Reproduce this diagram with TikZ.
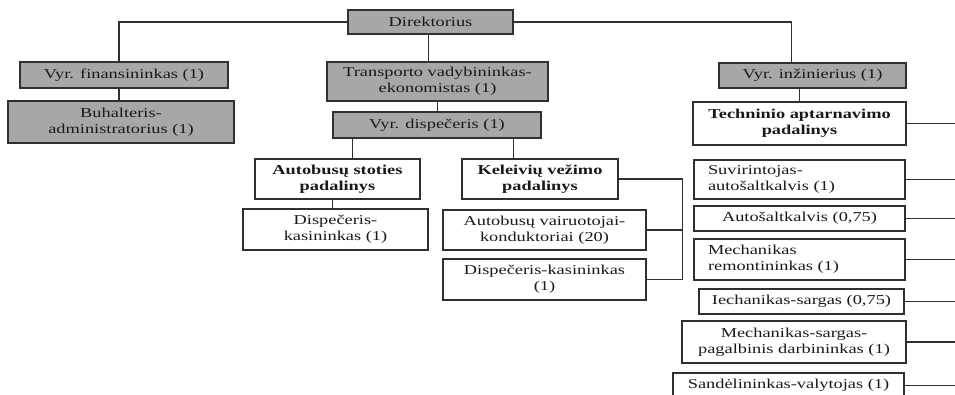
\documentclass[tikz,border=0pt]{standalone}
\usepackage{fontspec}
\setmainfont{Liberation Serif}[FakeStretch=1.35]
\usetikzlibrary{positioning}
\definecolor{boxgray}{RGB}{169,166,166}
\definecolor{inkgray}{RGB}{48,48,48}
\tikzset{
  grbox/.style={draw=inkgray, line width=1.3pt, fill=boxgray, align=center, inner sep=2pt, text=black!90, font=\fontsize{13.6}{16}\selectfont},
  wbox/.style={draw=inkgray, line width=1.3pt, fill=white, align=center, inner sep=2pt, text=black!90, font=\fontsize{13.6}{16}\selectfont},
  lbox/.style={wbox, align=left, inner xsep=14pt, text width=183pt},
  link/.style={draw=inkgray, line width=1.4pt}
}
\begin{document}
\begin{tikzpicture}[x=1pt, y=-1pt]
    \path[use as bounding box, clip] (0,0) rectangle (955,394);
    \coordinate (rim) at (955,0);
    % top levels
    \node[grbox, minimum width=165pt, minimum height=24pt] (dir) at (430.5,22) {Direktorius};
    \node[grbox, minimum width=208pt, minimum height=26pt] (fin) at (124,75) {Vyr. finansininkas (1)};
    \node[grbox, minimum width=226pt, minimum height=42pt] (buh) at (121,122) {Buhalteris-\\administratorius (1)};
    \node[grbox, minimum width=221pt, minimum height=39pt] (trans) at (437.5,81.5) {Transporto vadybininkas-\\ekonomistas (1)};
    \node[grbox, minimum width=208pt, minimum height=26pt] (vdisp) at (437,125) {Vyr. dispečeris (1)};
    \node[grbox, minimum width=187pt, minimum height=25pt] (inz) at (812.5,75.5) {Vyr. inžinierius (1)};
    % transporto padaliniai
    \node[wbox, minimum width=165pt, minimum height=40pt, font=\fontsize{13.6}{16}\selectfont\bfseries] (ast) at (337.5,179) {Autobusų stoties\\padalinys};
    \node[wbox, minimum width=185pt, minimum height=41pt] (dk1) at (335.5,229.5) {Dispečeris-\\kasininkas (1)};
    \node[wbox, minimum width=156pt, minimum height=40pt, font=\fontsize{13.6}{16}\selectfont\bfseries] (kvp) at (540,179) {Keleivių vežimo\\padalinys};
    \node[wbox, minimum width=203pt, minimum height=40pt] (avk) at (544.5,230) {Autobusų vairuotojai-\\konduktoriai (20)};
    \node[wbox, minimum width=203pt, minimum height=41pt] (dk2) at (544.5,279.5) {Dispečeris-kasininkas\\(1)};
    % techninis padalinys
    \node[wbox, minimum width=213pt, minimum height=43pt, font=\fontsize{13.6}{16}\selectfont\bfseries] (tap) at (799.5,123.5) {Techninio aptarnavimo\\padalinys};
    \node[lbox, minimum height=39pt] (suv) at (799.5,179.5) {Suvirintojas-\\autošaltkalvis (1)};
    \node[wbox, minimum width=211pt, minimum height=25pt] (aut) at (799.5,218.5) {Autošaltkalvis (0,75)};
    \node[lbox, minimum height=41pt] (mre) at (799.5,259.5) {Mechanikas\\remontininkas (1)};
    \node[wbox, minimum width=205pt, minimum height=25pt] (ies) at (801.5,301.5) {Iechanikas-sargas (0,75)};
    \node[wbox, minimum width=224pt, minimum height=42pt] (msp) at (794,342) {Mechanikas-sargas-\\pagalbinis darbininkas (1)};
    \node[wbox, minimum width=231pt, minimum height=25pt] (sv) at (788.5,385.5) {Sandėlininkas-valytojas (1)};
    % connectors
    \draw[link] (dir.west) -| ([xshift=-5pt]fin.north);
    \draw[link] ([xshift=-5pt]fin.south) -- ([xshift=-5pt]fin.south |- buh.north);
    \draw[link] ([xshift=-2pt]dir.south) -- ([xshift=-2pt]dir.south |- trans.north);
    \draw[link] (trans.south) -- (trans.south |- vdisp.north);
    \draw[link] (dir.east) -| ([xshift=-21pt]inz.north);
    \draw[link] (tap.north |- inz.south) -- (tap.north);
    \coordinate (vd1) at ([xshift=20pt]vdisp.south west);
    \coordinate (vd2) at ([xshift=-28pt]vdisp.south east);
    \draw[link] (vd1) -- (vd1 |- ast.north);
    \draw[link] (vd2) -- (vd2 |- kvp.north);
    \draw[link] ([xshift=-5pt]ast.south) -- ([xshift=-5pt]ast.south |- dk1.north);
    \coordinate (kb) at ([xshift=64pt]kvp.east);
    \draw[link] (kvp.east) -- (kb) |- (dk2.east);
    \draw[link] (kb |- avk.east) -- (avk.east);
    \foreach \n in {tap,suv,aut,mre,ies,msp,sv}
        \draw[link] (\n.east) -- (\n.east -| rim);
\end{tikzpicture}
\end{document}
